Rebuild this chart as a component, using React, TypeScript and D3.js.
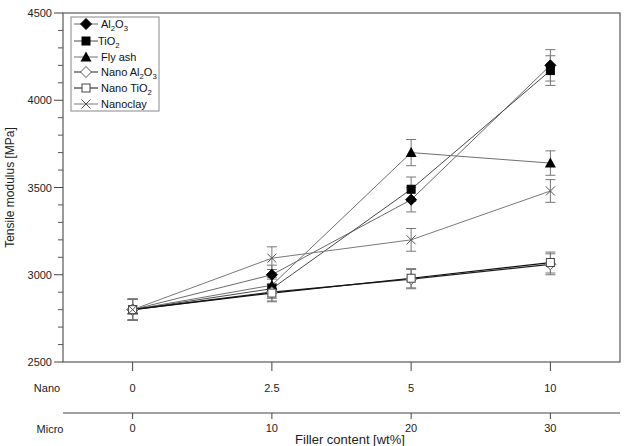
import React from "react";
import * as d3 from "d3";

const nanoTicks = ["0", "2.5", "5", "10"];
const microTicks = ["0", "10", "20", "30"];
const yTicks = [2500, 3000, 3500, 4000, 4500];

const seriesNames = ["Al2O3", "TiO2", "Fly ash", "Nano Al2O3", "Nano TiO2", "Nanoclay"];
const al2o3 = [2800, 3000, 3430, 4200];
const tio2 = [2800, 2920, 3490, 4170];
const flyAsh = [2800, 2940, 3700, 3640];
const nanoAl2o3 = [2800, 2900, 2975, 3060];
const nanoTio2 = [2800, 2895, 2980, 3070];
const nanoclay = [2800, 3095, 3200, 3480];

const al2o3Err = [60, 55, 70, 90];
const tio2Err = [60, 55, 70, 85];
const flyAshErr = [60, 45, 75, 70];
const nanoAl2o3Err = [60, 50, 55, 60];
const nanoTio2Err = [60, 50, 55, 60];
const nanoclayErr = [60, 65, 65, 65];

const values = [al2o3, tio2, flyAsh, nanoAl2o3, nanoTio2, nanoclay];
const errors = [al2o3Err, tio2Err, flyAshErr, nanoAl2o3Err, nanoTio2Err, nanoclayErr];
const markers = ["diamond", "square", "triangle", "diamondOpen", "squareOpen", "cross"];
const lineColors = ["#6a6a6a", "#4a4a4a", "#707070", "#222", "#111", "#7a7a7a"];

const W = 624;
const H = 446;
const left = 63;
const right = 620;
const top = 13;
const bottom = 362;
const microY = 413;
const font = "'Liberation Sans', Arial, sans-serif";

const x = d3.scaleLinear().domain([-0.5, 3.5]).range([left, right]);
const y = d3.scaleLinear().domain([2500, 4500]).range([bottom, top]);

function Marker({ kind, cx, cy }: { kind: string; cx: number; cy: number }) {
  const s = 4.5;
  if (kind === "diamond" || kind === "diamondOpen") {
    const d = `M${cx},${cy - s - 1}L${cx + s + 1},${cy}L${cx},${cy + s + 1}L${cx - s - 1},${cy}Z`;
    return <path d={d} fill={kind === "diamond" ? "#000" : "#fff"} stroke={kind === "diamond" ? "#000" : "#555"} strokeWidth={1} />;
  }
  if (kind === "square" || kind === "squareOpen") {
    const q = s - 0.5;
    return (
      <rect x={cx - q} y={cy - q} width={2 * q} height={2 * q}
        fill={kind === "square" ? "#000" : "#fff"} stroke={kind === "square" ? "#000" : "#444"} strokeWidth={1} />
    );
  }
  if (kind === "triangle") {
    const d = `M${cx},${cy - s - 1}L${cx + s + 1},${cy + s}L${cx - s - 1},${cy + s}Z`;
    return <path d={d} fill="#000" />;
  }
  const d = `M${cx - s},${cy - s}L${cx + s},${cy + s}M${cx - s},${cy + s}L${cx + s},${cy - s}`;
  return <path d={d} stroke="#555" strokeWidth={1} fill="none" />;
}

function SubText({ text, x0, y0, size }: { text: string; x0: number; y0: number; size: number }) {
  const parts = text.split(/(\d)/).filter((p) => p !== "");
  return (
    <text x={x0} y={y0} fontSize={size} fontFamily={font} fill="#111">
      {parts.map((p, i) =>
        /\d/.test(p) ? (
          <tspan key={i} dy={3} fontSize={size * 0.7}>{p}</tspan>
        ) : (
          <tspan key={i} dy={i > 0 && /\d/.test(parts[i - 1]) ? -3 : 0}>{p}</tspan>
        )
      )}
    </text>
  );
}

export default function App() {
  const line = d3.line<number>().x((_, i) => x(i)).y((v) => y(v));
  const minorTicks = d3.range(2500, 4501, 100).filter((v) => v % 500 !== 0);
  const legendY = [24, 41, 57, 72, 88, 104];

  return (
    <svg width={W} height={H} style={{ position: "absolute", left: 0, top: 0, background: "#fff" }}>
      {/* plot frame */}
      <rect x={left} y={top} width={right - left} height={bottom - top} fill="none" stroke="#666" strokeWidth={1.3} />

      {/* y axis ticks */}
      {yTicks.map((t) => (
        <g key={t}>
          <line x1={left - 9} x2={left} y1={y(t)} y2={y(t)} stroke="#444" />
          <text x={left - 11} y={y(t) + 4} textAnchor="end" fontSize={11} fontFamily={font} fill="#222">{t}</text>
        </g>
      ))}
      {minorTicks.map((t) => (
        <line key={t} x1={left - 5} x2={left} y1={y(t)} y2={y(t)} stroke="#555" />
      ))}
      <text transform={`translate(14,${(top + bottom) / 2}) rotate(-90)`} textAnchor="middle" fontSize={12} fontFamily={font} fill="#222">
        Tensile modulus [MPa]
      </text>

      {/* nano axis */}
      {nanoTicks.map((t, i) => (
        <g key={"n" + t}>
          <line x1={x(i)} x2={x(i)} y1={bottom} y2={bottom + 9} stroke="#444" />
          <text x={x(i)} y={392} textAnchor="middle" fontSize={11} fontFamily={font} fill="#222">{t}</text>
        </g>
      ))}
      <text x={47} y={392} textAnchor="middle" fontSize={11} fontFamily={font} fill="#222">Nano</text>

      {/* micro axis */}
      <line x1={left} x2={right} y1={microY} y2={microY} stroke="#444" strokeWidth={1.2} />
      {microTicks.map((t, i) => (
        <g key={"m" + t}>
          <line x1={x(i)} x2={x(i)} y1={microY} y2={microY + 6} stroke="#444" />
          <text x={x(i)} y={microY + 19} textAnchor="middle" fontSize={11} fontFamily={font} fill="#222">{t}</text>
        </g>
      ))}
      <text x={50} y={microY + 20} textAnchor="middle" fontSize={11} fontFamily={font} fill="#222">Micro</text>
      <text x={350} y={444} textAnchor="middle" fontSize={13} fontFamily={font} fill="#222">
        Filler content [wt%]
      </text>

      {/* error bars */}
      {values.map((vals, si) =>
        vals.map((v, i) => {
          const e = errors[si][i];
          const cx = x(i);
          return (
            <g key={`e${si}-${i}`} stroke="#777" strokeWidth={1}>
              <line x1={cx} x2={cx} y1={y(v + e)} y2={y(v - e)} />
              <line x1={cx - 5} x2={cx + 5} y1={y(v + e)} y2={y(v + e)} />
              <line x1={cx - 5} x2={cx + 5} y1={y(v - e)} y2={y(v - e)} />
            </g>
          );
        })
      )}

      {/* lines */}
      {values.map((vals, si) => (
        <path key={"l" + si} d={line(vals) || ""} fill="none" stroke={lineColors[si]} strokeWidth={si === 3 || si === 4 ? 1.2 : 1} />
      ))}

      {/* markers */}
      {values.map((vals, si) =>
        vals.map((v, i) => <Marker key={`m${si}-${i}`} kind={markers[si]} cx={x(i)} cy={y(v)} />)
      )}

      {/* legend */}
      <rect x={71} y={17} width={88} height={94} fill="#fff" stroke="#888" strokeWidth={1} />
      {seriesNames.map((name, si) => (
        <g key={"lg" + si}>
          <line x1={74} x2={98} y1={legendY[si]} y2={legendY[si]} stroke={lineColors[si]} />
          <Marker kind={markers[si]} cx={86} cy={legendY[si]} />
          <SubText text={name} x0={si === 1 ? 98 : 101} y0={legendY[si] + 4} size={11} />
        </g>
      ))}
    </svg>
  );
}
